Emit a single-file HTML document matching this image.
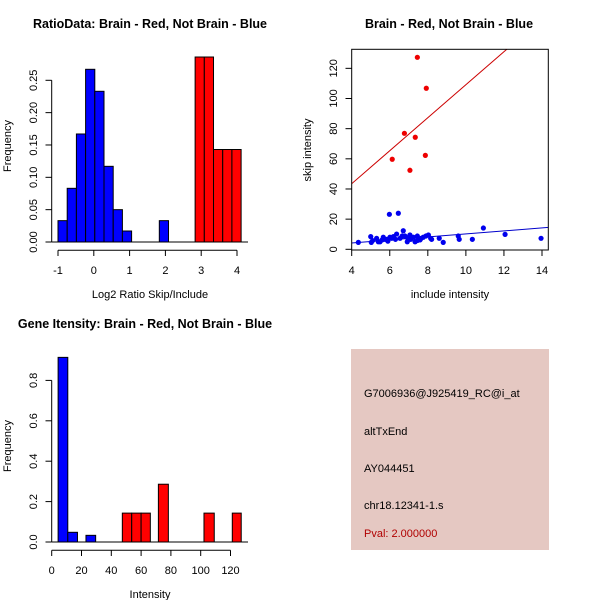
<!DOCTYPE html>
<html><head><meta charset="utf-8"><style>
html,body{margin:0;padding:0;background:#fff;}
svg{display:block;font-family:"Liberation Sans",Arial,sans-serif;}
</style></head><body>
<svg id="s" width="600" height="600" viewBox="0 0 600 600">
<rect width="600" height="600" fill="#fff"/>
</svg>
<script>
// ---- Panel 1: ratio histogram ----
const ratioBlueStart = [-1.0,-0.743,-0.486,-0.229,0.028,0.285,0.542,0.799,1.83];
const ratioBlueFreq  = [0.033,0.083,0.167,0.267,0.233,0.117,0.05,0.017,0.033];
const ratioRedStart  = [2.83,3.087,3.344,3.601,3.858];
const ratioRedFreq   = [0.286,0.286,0.143,0.143,0.143];
const ratioBinWidth  = 0.257;
const ratioXTicks = [-1,0,1,2,3,4];
const ratioYTicks = [0,0.05,0.10,0.15,0.20,0.25];
const ratioYLabels = ["0.00","0.05","0.10","0.15","0.20","0.25"];
// ---- Panel 2: scatter ----
const redX = [7.45,7.92,6.77,7.34,6.13,7.87,7.06];
const redY = [127.3,106.8,76.9,74.3,59.7,62.3,52.4];
const blueX = [4.35,5.0,5.03,5.31,5.49,5.66,5.84,5.98,6.01,6.19,6.36,6.45,6.54,6.71,6.8,6.92,7.06,7.24,7.33,7.59,7.76,8.03,8.2,8.6,8.81,9.6,9.65,10.34,10.92,12.06,13.95,5.4,5.6,5.75,5.9,6.1,6.3,6.65,6.95,7.1,7.45,7.65,7.9,8.15,7.45,5.1];
const blueY = [4.6,8.4,4.6,7.3,5.0,8.0,6.6,23.2,8.0,8.4,10.1,23.9,7.3,12.3,8.8,5.0,9.5,8.0,5.0,6.2,8.0,9.5,6.6,7.3,4.6,8.8,6.6,6.6,14.1,9.9,7.3,5.0,6.2,6.6,5.4,7.3,6.6,8.8,7.3,6.6,5.8,7.3,8.8,7.3,8.8,5.8];
const redFit = [-0.26,10.94];   // intercept, slope
const blueFit = [0.2,1.0];
const scXTicks = [4,6,8,10,12,14];
const scYTicks = [0,20,40,60,80,100,120];
// ---- Panel 3: intensity histogram ----
const intBlueStart = [4.3,10.8,23.0];
const intBlueEnd   = [10.8,17.3,29.5];
const intBlueFreq  = [0.914,0.048,0.033];
const intRedStart  = [47.4,53.7,60.0,71.6,102.2,121.2];
const intRedEnd    = [53.7,60.0,66.2,78.3,109.1,127.2];
const intRedFreq   = [0.143,0.143,0.143,0.286,0.143,0.143];
const intXTicks = [0,20,40,60,80,100,120];
const intYTicks = [0,0.2,0.4,0.6,0.8];
const intYLabels = ["0.0","0.2","0.4","0.6","0.8"];

const S = document.getElementById('s');
const NS = 'http://www.w3.org/2000/svg';
function mk(tag, attrs, parent, text){
  const e = document.createElementNS(NS, tag);
  for (const k in attrs) e.setAttribute(k, attrs[k]);
  if (text !== undefined) e.textContent = text;
  (parent||S).appendChild(e);
  return e;
}
function txt(x,y,s,opts,name){
  const o = Object.assign({x:x,y:y,'font-size':11,'text-anchor':'middle',fill:'#000'},opts||{});
  const t = mk('text',o,S,s);
  
  
  return t;
}
function ln(x1,y1,x2,y2,stroke,name){
  const l = mk('line',{x1:x1,y1:y1,x2:x2,y2:y2,stroke:stroke||'#000','stroke-width':1});
  
  
  return l;
}

// Panel 1
(function(){
  const x = v => 58 + (v+1)*35.8;
  const y = v => 242 - v*646.8;
  txt(150,28,'RatioData: Brain - Red, Not Brain - Blue',{'font-weight':'bold','font-size':12.5},'ratio-title');
  ln(51.7,242,248,242,'#000','ratio-baseline');
  function bars(st,fr,col,nm){
    st.forEach((s,i)=>{
      const r = mk('rect',{x:x(s),y:y(fr[i]),width:x(s+ratioBinWidth)-x(s),height:242-y(fr[i]),fill:col,stroke:'#000','stroke-width':1});
      
      
    });
  }
  bars(ratioBlueStart,ratioBlueFreq,'#0000ff','ratio-blue-bar');
  bars(ratioRedStart,ratioRedFreq,'#ff0000','ratio-red-bar');
  ln(x(-1),250.3,x(4),250.3,'#000','ratio-x-axis');
  ratioXTicks.forEach(v=>{ln(x(v),250.3,x(v),256,'#000','ratio-x-tick');txt(x(v),274,String(v),{},'ratio-x-label');});
  ln(51.7,y(0),51.7,y(0.25),'#000','ratio-y-axis');
  ratioYTicks.forEach((v,i)=>{ln(45.5,y(v),51.7,y(v),'#000','ratio-y-tick');
    txt(0,0,ratioYLabels[i],{transform:`translate(37,${y(v)}) rotate(-90)`},'ratio-y-label');});
  txt(150,298,'Log2 Ratio Skip/Include',{},'ratio-x-title');
  txt(0,0,'Frequency',{transform:'translate(11,146) rotate(-90)'},'ratio-y-title');
})();

// Panel 2
(function(){
  const x = v => 351.7 + (v-4)*19.03;
  const y = v => 249.3 - v*1.508;
  txt(449,28,'Brain - Red, Not Brain - Blue',{'font-weight':'bold','font-size':12.5},'scatter-title');
  const cp = mk('clipPath',{id:'cp'}); mk('rect',{x:351.7,y:49.3,width:196.6,height:200.7},cp);
  const g = mk('g',{'clip-path':'url(#cp)'});
  
  
  const l1 = mk('line',{x1:x(3),y1:y(redFit[0]+redFit[1]*3),x2:x(15),y2:y(redFit[0]+redFit[1]*15),stroke:'#cc0000','stroke-width':1},g);
   
  const l2 = mk('line',{x1:x(3),y1:y(blueFit[0]+blueFit[1]*3),x2:x(15),y2:y(blueFit[0]+blueFit[1]*15),stroke:'#0000cc','stroke-width':1},g);
   
  blueX.forEach((v,i)=>{const c=mk('circle',{cx:x(v),cy:y(blueY[i]),r:2.6,fill:'#0000ee'},g);
     });
  redX.forEach((v,i)=>{const c=mk('circle',{cx:x(v),cy:y(redY[i]),r:2.6,fill:'#ee0000'},g);
     });
  const fr = mk('rect',{x:351.7,y:49.3,width:196.6,height:200.7,fill:'none',stroke:'#000','stroke-width':1});
   
  scXTicks.forEach(v=>{ln(x(v),250,x(v),256,'#000','scatter-x-tick');txt(x(v),274,String(v),{},'scatter-x-label');});
  scYTicks.forEach(v=>{ln(345.5,y(v),351.7,y(v),'#000','scatter-y-tick');
    txt(0,0,String(v),{transform:`translate(337,${y(v)}) rotate(-90)`},'scatter-y-label');});
  txt(450,298,'include intensity',{},'scatter-x-title');
  txt(0,0,'skip intensity',{transform:'translate(311,150) rotate(-90)'},'scatter-y-title');
})();

// Panel 3
(function(){
  const x = v => 51.7 + v*1.49;
  const y = v => 542 - v*202;
  txt(145,328,'Gene Itensity: Brain - Red, Not Brain - Blue',{'font-weight':'bold','font-size':12.5},'intensity-title');
  ln(51.7,542,248,542,'#000','intensity-baseline');
  function bars(st,en,fr,col,nm){
    st.forEach((s,i)=>{
      const r = mk('rect',{x:x(s),y:y(fr[i]),width:x(en[i])-x(s),height:542-y(fr[i]),fill:col,stroke:'#000','stroke-width':1});
      
      
    });
  }
  bars(intBlueStart,intBlueEnd,intBlueFreq,'#0000ff','intensity-blue-bar');
  bars(intRedStart,intRedEnd,intRedFreq,'#ff0000','intensity-red-bar');
  ln(x(0),550.3,x(120),550.3,'#000','intensity-x-axis');
  intXTicks.forEach(v=>{ln(x(v),550.3,x(v),556,'#000','intensity-x-tick');txt(x(v),574,String(v),{},'intensity-x-label');});
  ln(51.7,y(0),51.7,y(0.8),'#000','intensity-y-axis');
  intYTicks.forEach((v,i)=>{ln(45.5,y(v),51.7,y(v),'#000','intensity-y-tick');
    txt(0,0,intYLabels[i],{transform:`translate(37,${y(v)}) rotate(-90)`},'intensity-y-label');});
  txt(150,598,'Intensity',{},'intensity-x-title');
  txt(0,0,'Frequency',{transform:'translate(11,446) rotate(-90)'},'intensity-y-title');
})();

// Panel 4: info box
(function(){
  const r = mk('rect',{x:351,y:349,width:198,height:201,fill:'#e5c8c2'});
   
  const lines = ['G7006936@J925419_RC@i_at','altTxEnd','AY044451','chr18.12341-1.s'];
  const ys = [397,435,472,509];
  lines.forEach((s,i)=>txt(364,ys[i],s,{'text-anchor':'start'},'info-line-'+(i+1)));
  txt(364,537,'Pval: 2.000000',{'text-anchor':'start',fill:'#b00000'},'info-pval');
})();
</script>
</body></html>
